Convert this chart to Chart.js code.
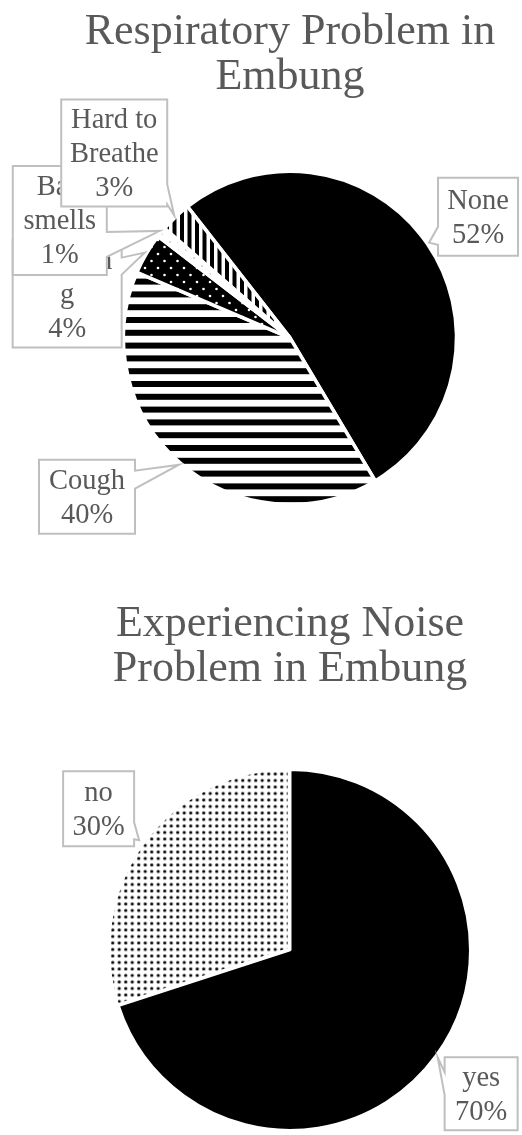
<!DOCTYPE html>
<html>
<head>
<meta charset="utf-8">
<title>Embung survey</title>
<script src="https://cdn.jsdelivr.net/npm/chart.js@4.4.1/dist/chart.umd.min.js"></script>
<style>
  body { margin: 0; background: #fff; }
  .chart-box { position: relative; width: 522px; }
</style>
</head>
<body>
<div class="chart-box"><canvas id="resp-chart" width="522" height="570"></canvas></div>
<div class="chart-box"><canvas id="noise-chart" width="522" height="565"></canvas></div>

<script>
// survey results (percent)
const respLabels = ["None", "Cough", "Sneezing", "Bad smells", "Hard to Breathe"];
const respValues = [52, 40, 4, 1, 3];

const noiseLabels = ["yes", "no"];
const noiseValues = [70, 30];

const textGrey = "#595959";
const serif = "'Liberation Serif', 'Times New Roman', serif";

// fill patterns
function makePattern(w, h, draw) {
  var c = document.createElement("canvas");
  c.width = w;
  c.height = h;
  var g = c.getContext("2d");
  draw(g, w, h);
  return g.createPattern(c, "repeat");
}

var hStripes = makePattern(8, 64, function (g, w, h) {
  g.fillStyle = "#fff";
  g.fillRect(0, 0, w, h);
  g.fillStyle = "#000";
  for (var k = 0; k <= 5; k++) {
    g.fillRect(0, k * 12.8 - 3, w, 6);
  }
});

var vStripes = makePattern(15, 8, function (g, w, h) {
  g.fillStyle = "#fff";
  g.fillRect(0, 0, w, h);
  g.fillStyle = "#000";
  g.fillRect(0, 0, 4, h);
  g.fillRect(7.5, 0, 4, h);
});

var confetti = makePattern(13, 14, function (g, w, h) {
  g.fillStyle = "#000";
  g.fillRect(0, 0, w, h);
  g.fillStyle = "#fff";
  [[2, 2], [8.5, 9]].forEach(function (p) {
    g.beginPath();
    g.arc(p[0], p[1], 1.3, 0, Math.PI * 2);
    g.fill();
  });
});

var faintDots = makePattern(8, 8, function (g, w, h) {
  g.fillStyle = "#fff";
  g.fillRect(0, 0, w, h);
  g.fillStyle = "#aaa";
  g.beginPath();
  g.arc(2, 2, 0.8, 0, Math.PI * 2);
  g.fill();
});

var dotGrid = makePattern(13, 13, function (g, w, h) {
  g.fillStyle = "#fff";
  g.fillRect(0, 0, w, h);
  g.fillStyle = "#000";
  [[3, 3], [9.5, 3], [3, 9.5], [9.5, 9.5]].forEach(function (p) {
    g.beginPath();
    g.arc(p[0], p[1], 1.6, 0, Math.PI * 2);
    g.fill();
  });
});

// wraps a label into lines that fit the box, breaking long words if needed
function wrapText(ctx, text, maxW) {
  var words = text.split(" ");
  var lines = [];
  var cur = "";
  words.forEach(function (word) {
    var test = cur ? cur + " " + word : word;
    if (ctx.measureText(test).width <= maxW) {
      cur = test;
    } else {
      if (cur) lines.push(cur);
      cur = word;
    }
    while (ctx.measureText(cur).width > maxW && cur.length > 1) {
      var n = cur.length - 1;
      while (n > 1 && ctx.measureText(cur.slice(0, n)).width > maxW) n--;
      lines.push(cur.slice(0, n));
      cur = cur.slice(n);
    }
  });
  if (cur) lines.push(cur);
  return lines;
}

// callout boxes with a pointer to the slice edge
const calloutPlugin = {
  id: "callouts",
  afterDatasetsDraw(chart, args, opts) {
    var ctx = chart.ctx;
    var meta = chart.getDatasetMeta(0);
    var labels = chart.data.labels;
    var values = chart.data.datasets[0].data;
    ctx.save();
    ctx.font = "28.5px " + serif;
    meta.data.forEach(function (arc, i) {
      var b = opts.boxes[i];
      var p = arc.getProps(["x", "y", "startAngle", "endAngle", "outerRadius"], true);
      var mid = (p.startAngle + p.endAngle) / 2;
      var dist = p.outerRadius + 2 + (arc.options.offset || 0);
      var tx = p.x + Math.cos(mid) * dist;
      var ty = p.y + Math.sin(mid) * dist;
      var bx = tx + b.dx;
      var by = ty + b.dy;

      ctx.beginPath();
      ctx.moveTo(bx, by);
      ctx.lineTo(bx + b.w, by);
      if (b.side === "right") {
        ctx.lineTo(bx + b.w, by + b.base[0]);
        ctx.lineTo(tx, ty);
        ctx.lineTo(bx + b.w, by + b.base[1]);
      }
      ctx.lineTo(bx + b.w, by + b.h);
      ctx.lineTo(bx, by + b.h);
      if (b.side === "left") {
        ctx.lineTo(bx, by + b.base[1]);
        ctx.lineTo(tx, ty);
        ctx.lineTo(bx, by + b.base[0]);
      }
      ctx.closePath();
      ctx.fillStyle = "#fff";
      ctx.fill();
      ctx.lineWidth = 2;
      ctx.strokeStyle = "#bfbfbf";
      ctx.stroke();

      var lines = wrapText(ctx, labels[i], b.w - 16);
      lines.push(values[i] + "%");
      ctx.fillStyle = textGrey;
      ctx.textAlign = "center";
      ctx.textBaseline = "alphabetic";
      var cx = bx + b.w / 2;
      var cy = by + b.h / 2;
      lines.forEach(function (line, k) {
        var y = cy + (k - (lines.length - 1) / 2) * 34 + 9;
        ctx.fillText(line, cx, y);
      });
    });
    ctx.restore();
  },
};

function titleOptions(lines, top, bottom) {
  return {
    display: true,
    text: lines,
    color: textGrey,
    font: { family: serif, size: 44, weight: "normal", lineHeight: 1.02 },
    padding: { top: top, bottom: bottom },
  };
}

// start chart 1
new Chart(document.getElementById("resp-chart"), {
  type: "pie",
  data: {
    labels: respLabels,
    datasets: [
      {
        data: respValues,
        backgroundColor: ["#000", hStripes, confetti, faintDots, vStripes],
        borderColor: "#fff",
        borderWidth: 3.5,
      },
    ],
  },
  options: {
    responsive: false,
    animation: false,
    events: [],
    rotation: -38,
    radius: 166.5,
    layout: { padding: { left: 58 } },
    plugins: {
      legend: { display: false },
      tooltip: { enabled: false },
      title: titleOptions(["Respiratory Problem in", "Embung"], 10, 6),
      callouts: {
        boxes: [
          { dx: 9, dy: -65, w: 80, h: 78, side: "left", base: [49, 67] },
          { dx: -140, dy: -5, w: 96, h: 74, side: "right", base: [11, 29] },
          { dx: -132, dy: -13, w: 109, h: 108, side: "right", base: [18, 35] },
          { dx: -147, dy: -65, w: 94, h: 109, side: "right", base: [66, 91] },
          { dx: -113, dy: -116, w: 106, h: 107, side: "right", base: [85, 105] },
        ],
      },
    },
  },
  plugins: [calloutPlugin],
});

// start chart 2
new Chart(document.getElementById("noise-chart"), {
  type: "pie",
  data: {
    labels: noiseLabels,
    datasets: [
      {
        data: noiseValues,
        backgroundColor: ["#000", dotGrid],
        borderColor: "#fff",
        borderWidth: 3,
        offset: [0, 4],
      },
    ],
  },
  options: {
    responsive: false,
    animation: false,
    events: [],
    rotation: 0,
    radius: 180.5,
    layout: { padding: { left: 58 } },
    plugins: {
      legend: { display: false },
      tooltip: { enabled: false },
      title: titleOptions(["Experiencing Noise", "Problem in Embung"], 32, 73),
      callouts: {
        boxes: [
          { dx: 7, dy: 0, w: 73, h: 73, side: "left", base: [15, 38] },
          { dx: -76, dy: -69, w: 71, h: 75, side: "right", base: [51, 68] },
        ],
      },
    },
  },
  plugins: [calloutPlugin],
});
</script>
</body>
</html>
